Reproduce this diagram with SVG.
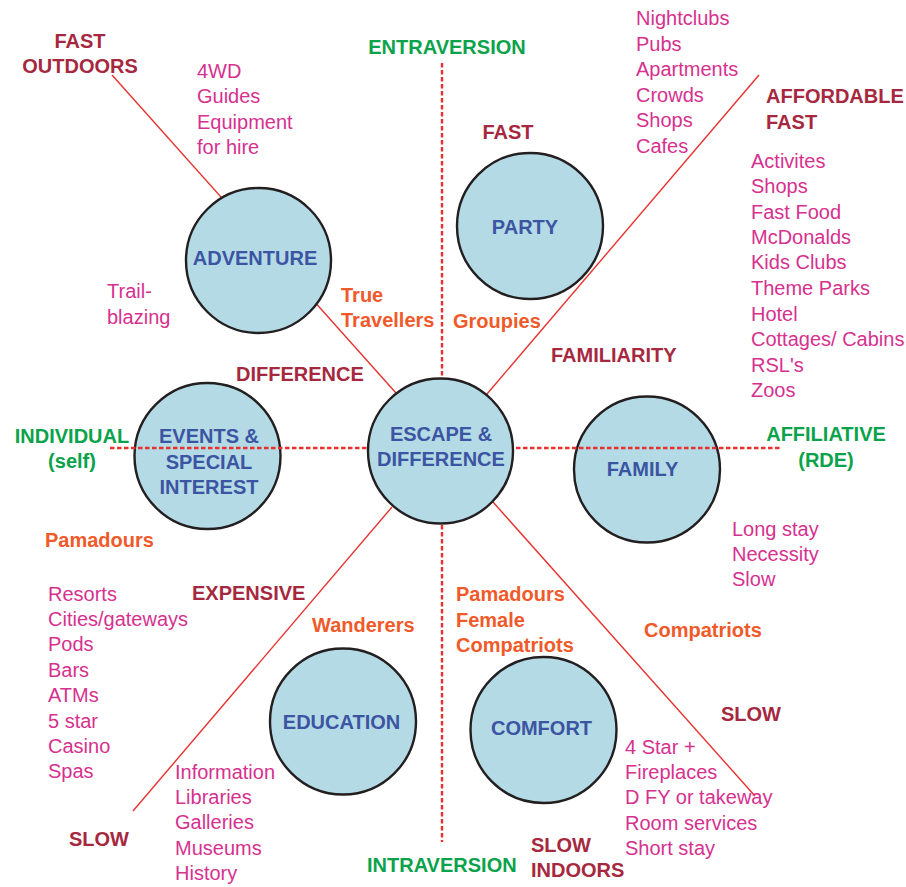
<svg xmlns="http://www.w3.org/2000/svg" width="906" height="887" viewBox="0 0 906 887">
<style>
text{font-family:"Liberation Sans",Arial,Helvetica,sans-serif;font-size:20px}
.mr{fill:#a6283f;font-weight:bold}
.gr{fill:#0aa34b;font-weight:bold}
.or{fill:#f05a2a;font-weight:bold}
.mg{fill:#d6318f}
.bl{fill:#3b55a3;font-weight:bold;text-anchor:middle}
.c{text-anchor:middle}
.node circle{fill:#b4dae5;stroke:#231f20;stroke-width:2.4}
.ln{stroke:#e8312f;stroke-width:1.4;fill:none}
.ds{stroke:#e8312f;stroke-width:2.4;stroke-dasharray:4.5 2.5;fill:none}
</style>
<rect width="906" height="887" fill="#fff"/>
<g id="events" class="node"><circle cx="207.5" cy="456" r="73"/><text class="bl" x="209" y="443">EVENTS &amp;</text><text class="bl" x="209" y="469">SPECIAL</text><text class="bl" x="209" y="494">INTEREST</text></g>
<g id="family" class="node"><circle cx="647" cy="469.5" r="73"/><text class="bl" x="642.5" y="476">FAMILY</text></g>
<g id="connectors">
<line class="ds" x1="442" y1="63" x2="442" y2="842"/>
<line class="ds" x1="110" y1="448" x2="782" y2="448"/>
<line class="ln" x1="112" y1="75" x2="396" y2="393"/>
<line class="ln" x1="759" y1="75" x2="487" y2="394"/>
<line class="ln" x1="392" y1="507" x2="133" y2="811"/>
<line class="ln" x1="493" y1="502" x2="755" y2="796"/>
</g>
<g id="adventure" class="node"><circle cx="258.5" cy="260.5" r="72.5"/><text class="bl" x="255" y="265">ADVENTURE</text></g>
<g id="party" class="node"><circle cx="530" cy="226" r="73"/><text class="bl" x="525" y="234">PARTY</text></g>
<g id="escape" class="node"><circle cx="440.5" cy="451" r="72.5"/><text class="bl" x="441" y="441">ESCAPE &amp;</text><text class="bl" x="441" y="466">DIFFERENCE</text></g>
<g id="education" class="node"><circle cx="343" cy="721.5" r="73"/><text class="bl" x="341.5" y="729">EDUCATION</text></g>
<g id="comfort" class="node"><circle cx="543.5" cy="730" r="73"/><text class="bl" x="541.5" y="735">COMFORT</text></g>
<g id="labels">
<text class="mr c" x="80" y="48">FAST</text>
<text class="mr c" x="80" y="73">OUTDOORS</text>
<text class="gr c" x="447" y="54">ENTRAVERSION</text>
<text class="mr c" x="508" y="139">FAST</text>
<text class="mr" x="766" y="103">AFFORDABLE</text>
<text class="mr" x="766" y="129">FAST</text>
<text class="or" x="341" y="302">True</text>
<text class="or" x="341" y="327">Travellers</text>
<text class="or" x="453" y="328">Groupies</text>
<text class="mr" x="236" y="381">DIFFERENCE</text>
<text class="mr" x="551" y="362">FAMILIARITY</text>
<text class="gr c" x="72" y="443">INDIVIDUAL</text>
<text class="gr c" x="72" y="468">(self)</text>
<text class="gr c" x="826" y="441">AFFILIATIVE</text>
<text class="gr c" x="826" y="467">(RDE)</text>
<text class="or" x="45" y="547">Pamadours</text>
<text class="mr" x="192" y="600">EXPENSIVE</text>
<text class="or" x="312" y="632">Wanderers</text>
<text class="or" x="456" y="601">Pamadours</text>
<text class="or" x="456" y="627">Female</text>
<text class="or" x="456" y="652">Compatriots</text>
<text class="or" x="644" y="637">Compatriots</text>
<text class="mr" x="721" y="721">SLOW</text>
<text class="mr" x="69" y="846">SLOW</text>
<text class="gr" x="367" y="872">INTRAVERSION</text>
<text class="mr" x="531" y="852">SLOW</text>
<text class="mr" x="531" y="877">INDOORS</text>
</g>
<g id="lists">
<text class="mg" x="197" y="78">4WD</text>
<text class="mg" x="197" y="103">Guides</text>
<text class="mg" x="197" y="129">Equipment</text>
<text class="mg" x="197" y="154">for hire</text>
<text class="mg" x="107" y="298">Trail-</text>
<text class="mg" x="107" y="324">blazing</text>
<text class="mg" x="636" y="25">Nightclubs</text>
<text class="mg" x="636" y="51">Pubs</text>
<text class="mg" x="636" y="76">Apartments</text>
<text class="mg" x="636" y="102">Crowds</text>
<text class="mg" x="636" y="127">Shops</text>
<text class="mg" x="636" y="153">Cafes</text>
<text class="mg" x="751" y="168">Activites</text>
<text class="mg" x="751" y="193">Shops</text>
<text class="mg" x="751" y="219">Fast Food</text>
<text class="mg" x="751" y="244">McDonalds</text>
<text class="mg" x="751" y="269">Kids Clubs</text>
<text class="mg" x="751" y="295">Theme Parks</text>
<text class="mg" x="751" y="321">Hotel</text>
<text class="mg" x="751" y="346">Cottages/ Cabins</text>
<text class="mg" x="751" y="372">RSL's</text>
<text class="mg" x="751" y="397">Zoos</text>
<text class="mg" x="732" y="536">Long stay</text>
<text class="mg" x="732" y="561">Necessity</text>
<text class="mg" x="732" y="586">Slow</text>
<text class="mg" x="48" y="601">Resorts</text>
<text class="mg" x="48" y="626">Cities/gateways</text>
<text class="mg" x="48" y="651">Pods</text>
<text class="mg" x="48" y="677">Bars</text>
<text class="mg" x="48" y="702">ATMs</text>
<text class="mg" x="48" y="728">5 star</text>
<text class="mg" x="48" y="753">Casino</text>
<text class="mg" x="48" y="778">Spas</text>
<text class="mg" x="175" y="779">Information</text>
<text class="mg" x="175" y="804">Libraries</text>
<text class="mg" x="175" y="829">Galleries</text>
<text class="mg" x="175" y="855">Museums</text>
<text class="mg" x="175" y="880">History</text>
<text class="mg" x="625" y="754">4 Star +</text>
<text class="mg" x="625" y="779">Fireplaces</text>
<text class="mg" x="625" y="804">D FY or takeway</text>
<text class="mg" x="625" y="830">Room services</text>
<text class="mg" x="625" y="855">Short stay</text>
</g>
</svg>
